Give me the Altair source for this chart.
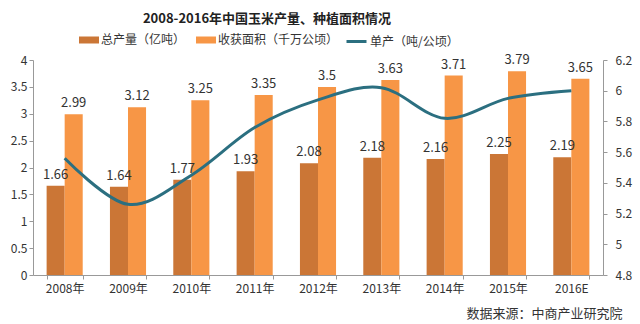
import altair as alt
import pandas as pd

years = ["2008年", "2009年", "2010年", "2011年", "2012年", "2013年", "2014年", "2015年", "2016E"]
production = [1.66, 1.64, 1.77, 1.93, 2.08, 2.18, 2.16, 2.25, 2.19]
area = [2.99, 3.12, 3.25, 3.35, 3.5, 3.63, 3.71, 3.79, 3.65]
unit_yield = [5.56, 5.26, 5.45, 5.76, 5.94, 6.02, 5.82, 5.95, 6.00]

s_prod = "总产量（亿吨）"
s_area = "收获面积（千万公顷）"
s_yield = "单产（吨/公顷）"

FONT = "Noto Sans CJK SC"

long_rows = []
for y, p, a in zip(years, production, area):
    long_rows.append({"year": y, "series": s_prod, "value": p})
    long_rows.append({"year": y, "series": s_area, "value": a})
df_long = pd.DataFrame(long_rows)
df_line = pd.DataFrame({"year": years, "yield": unit_yield, "label": [s_yield] * len(years)})

x_enc = alt.X(
    "year:N", sort=years,
    scale=alt.Scale(paddingInner=0.43, paddingOuter=0.215),
    axis=alt.Axis(
        title="数据来源：中商产业研究院", titleFontSize=13, titleFontWeight="normal",
        titleColor="#333", titleFont=FONT, titleAlign="right", titleAnchor="end",
        titleX=589, titleY=38, titleBaseline="middle",
        labelAngle=0, labelFontSize=12, labelFont=FONT, labelColor="#333",
        tickBand="extent", tickSize=4, labelPadding=4,
        domainColor="#999", tickColor="#999",
    ),
)

bars = alt.Chart(df_long).mark_bar().encode(
    x=x_enc,
    xOffset=alt.XOffset("series:N", sort=[s_prod, s_area]),
    y=alt.Y("value:Q", scale=alt.Scale(domain=[0, 4]),
            axis=alt.Axis(title=None, values=[0, 0.5, 1, 1.5, 2, 2.5, 3, 3.5, 4], format="~g",
                          grid=False, labelFontSize=12, labelFont=FONT, labelColor="#333",
                          tickSize=4, labelPadding=2, domainColor="#999", tickColor="#999")),
    color=alt.Color("series:N", sort=[s_prod, s_area],
                    scale=alt.Scale(domain=[s_prod, s_area], range=["#CB7636", "#F79646"]),
                    legend=alt.Legend(title=None, orient="none", legendX=46, legendY=-30,
                                      direction="horizontal",
                                      symbolType="M-1,-0.35L1,-0.35L1,0.35L-1,0.35Z",
                                      symbolSize=400, symbolOpacity=1, symbolStrokeWidth=0,
                                      labelFontSize=12, labelFont=FONT, labelColor="#333",
                                      labelOffset=2, columnPadding=10)),
)

line = alt.Chart(df_line).mark_line(interpolate="cardinal", strokeWidth=3).encode(
    x=alt.X("year:N", sort=years),
    y=alt.Y("yield:Q", scale=alt.Scale(domain=[4.8, 6.2]),
            axis=alt.Axis(title=None, orient="right", values=[4.8, 5, 5.2, 5.4, 5.6, 5.8, 6, 6.2],
                          format="~g", grid=False, labelFontSize=12, labelFont=FONT, labelColor="#333",
                          tickSize=4, labelPadding=8, domainColor="#999", tickColor="#999")),
    stroke=alt.Stroke("label:N", scale=alt.Scale(domain=[s_yield], range=["#2B6F80"]),
                      legend=alt.Legend(title=None, orient="none", legendX=312, legendY=-30,
                                        symbolType="stroke", symbolSize=400, symbolStrokeWidth=3,
                                        labelFontSize=12, labelFont=FONT, labelColor="#333",
                                        labelOffset=2)),
)

labels = alt.Chart(df_long).mark_text(baseline="bottom", dy=-4, fontSize=13, font=FONT, color="#333").encode(
    x=alt.X("year:N", sort=years),
    xOffset=alt.XOffset("series:N", sort=[s_prod, s_area]),
    y=alt.Y("value:Q", scale=alt.Scale(domain=[0, 4]), axis=None),
    text=alt.Text("value:Q", format=".2~f"),
)

chart = alt.layer(bars, line, labels).resolve_scale(
    y="independent"
).properties(
    width=570, height=215,
    title=alt.TitleParams("2008-2016年中国玉米产量、种植面积情况", fontSize=13, fontWeight="bold",
                          font=FONT, color="#222", anchor="middle", dx=-51),
    padding={"left": 33, "top": 60, "right": 37, "bottom": 49},
    autosize=alt.AutoSizeParams(type="none"),
    background="white",
).configure_view(stroke=None)

chart.save("out.html", embed_options={"renderer": "svg", "actions": False})
